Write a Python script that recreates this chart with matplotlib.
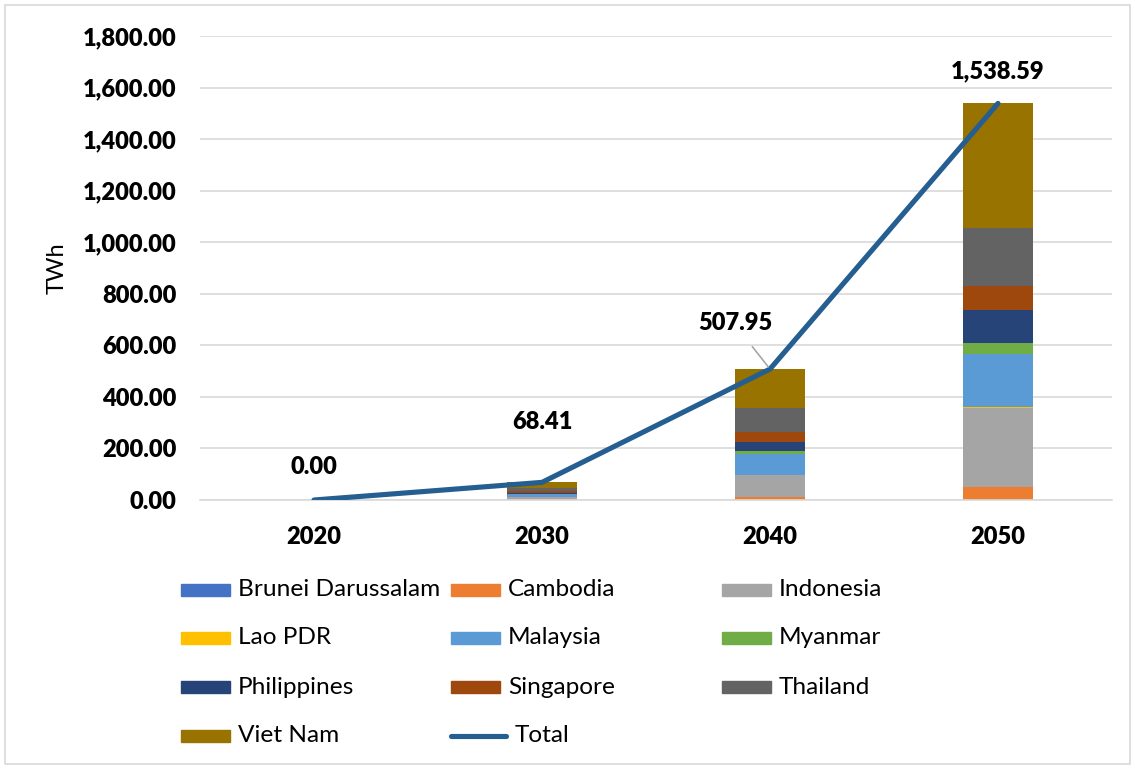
import matplotlib
matplotlib.use("Agg")
import matplotlib.pyplot as plt
from matplotlib.patches import Rectangle
from matplotlib.lines import Line2D
from matplotlib.ticker import FuncFormatter
import numpy as np

plt.rcParams['font.family'] = ['Lato', 'DejaVu Sans']

years = ["2020", "2030", "2040", "2050"]
countries = ["Brunei Darussalam", "Cambodia", "Indonesia", "Lao PDR", "Malaysia",
             "Myanmar", "Philippines", "Singapore", "Thailand", "Viet Nam"]
brunei = [0.0, 0.41, 0.5, 1.0]
cambodia = [0.0, 3.0, 12.0, 49.0]
indonesia = [0.0, 8.0, 85.0, 308.0]
lao = [0.0, 1.0, 1.0, 1.0]
malaysia = [0.0, 10.0, 80.0, 208.0]
myanmar = [0.0, 2.0, 13.0, 43.0]
philippines = [0.0, 4.0, 33.0, 129.0]
singapore = [0.0, 6.0, 39.0, 90.0]
thailand = [0.0, 11.0, 93.0, 225.0]
viet_nam = [0.0, 23.0, 151.45, 484.59]
total = [0.00, 68.41, 507.95, 1538.59]
series = [brunei, cambodia, indonesia, lao, malaysia, myanmar,
          philippines, singapore, thailand, viet_nam]
colors = ["#4472C4", "#ED7D31", "#A5A5A5", "#FFC000", "#5B9BD5",
          "#70AD47", "#264478", "#9E480E", "#636363", "#997300"]
line_color = "#255E91"

W, H = 1135, 769
fig = plt.figure(figsize=(W / 100, H / 100), dpi=100)

def fx(px):
    return px / W

def fy(py):
    return 1 - py / H

ax = fig.add_axes([fx(200), fy(500), fx(1112) - fx(200), fy(36) - fy(500)])
x = np.arange(len(years))
bottom = np.zeros(len(years))
for vals, c, name in zip(series, colors, countries):
    ax.bar(x, vals, width=0.31, bottom=bottom, color=c, label=name, zorder=2)
    bottom += np.array(vals)

ax.plot(x, total, color=line_color, lw=3.7, solid_capstyle='round', zorder=3)

ax.set_xlim(-0.5, len(years) - 0.5)
ax.set_ylim(0, 1800)
ax.set_yticks(np.arange(0, 1801, 200))
ax.yaxis.set_major_formatter(FuncFormatter(lambda v, p: f"{v:,.2f}"))
ax.set_xticks(x)
ax.set_xticklabels(years)
ax.grid(axis='y', color='#D9D9D9', lw=1.2, zorder=0)
ax.set_axisbelow(True)
for s in ['top', 'right', 'left']:
    ax.spines[s].set_visible(False)
ax.spines['bottom'].set_color('#D9D9D9')
ax.spines['bottom'].set_linewidth(1.2)
ax.tick_params(axis='both', length=0, labelsize=17)
ax.tick_params(axis='y', pad=17)
ax.tick_params(axis='x', pad=19)
for t in ax.get_xticklabels() + ax.get_yticklabels():
    t.set_fontweight('heavy')
ax.set_ylabel("TWh", fontsize=17)
ax.yaxis.set_label_coords((fx(68) - fx(200)) / (fx(1112) - fx(200)), 0.5)

# data labels on the total line
offsets = [(0, 33), (0, 60), (-35, 46), (0, 32)]
for xi, v, (dx, dy) in zip(x, total, offsets):
    arrow = None
    if xi == 2:
        arrow = dict(arrowstyle='-', color='#A6A6A6', lw=1.2, shrinkA=9, shrinkB=2,
                     relpos=(0.6, 0.0))
    ax.annotate(f"{v:,.2f}", (xi, v), xytext=(dx, dy), textcoords='offset pixels',
                ha='center', va='center', fontsize=17, fontweight='heavy',
                arrowprops=arrow, zorder=4)

# legend laid out row by row in three columns
col_x = [181, 451, 722]
row_y = [590, 638, 687, 736]
entries = [(n, c, 'bar') for n, c in zip(countries, colors)] + [("Total", line_color, 'line')]
for i, (name, c, kind) in enumerate(entries):
    r, k = divmod(i, 3)
    px, py = col_x[k], row_y[r]
    if kind == 'bar':
        fig.patches.append(Rectangle((fx(px), fy(py + 6)), fx(49), 12 / H,
                                     transform=fig.transFigure, color=c))
        fig.text(fx(px + 57), fy(py), name, fontsize=17.6, va='center', ha='left')
    else:
        fig.lines.append(Line2D([fx(px), fx(px + 55)], [fy(py), fy(py)], color=c, lw=3.7,
                                solid_capstyle='round', transform=fig.transFigure))
        fig.text(fx(px + 64), fy(py), name, fontsize=17.6, va='center', ha='left')

# outer frame
fig.patches.append(Rectangle((fx(5), fy(764)), fx(1125), fy(5) - fy(764),
                             transform=fig.transFigure, fill=False,
                             edgecolor='#D9D9D9', lw=1.2))

fig.savefig("out.png", dpi=100)
